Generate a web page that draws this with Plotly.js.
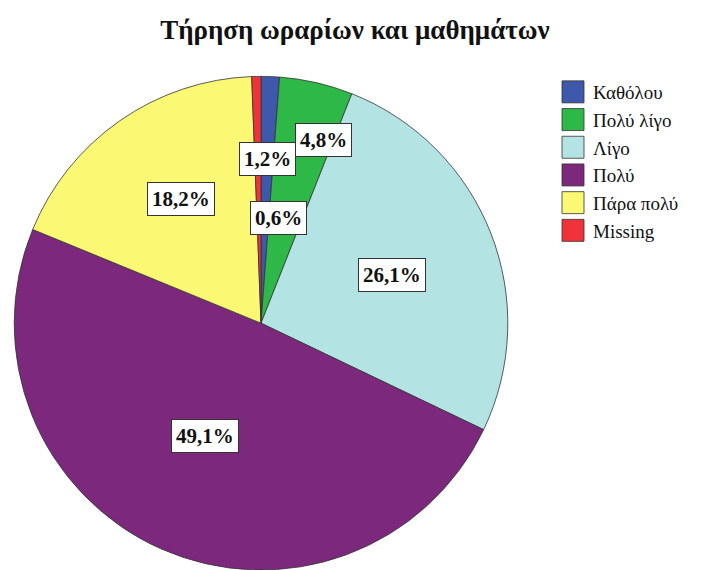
<!DOCTYPE html>
<html>
<head>
<meta charset="utf-8">
<script src="https://cdn.plot.ly/plotly-3.0.1.min.js"></script>
<style>html,body{margin:0;padding:0;background:#fff;overflow:hidden;}</style>
</head>
<body>
<div id="chart" style="width:704px;height:570px;"></div>
<script>
// ---- data ----
const categories = ["Καθόλου", "Πολύ λίγο", "Λίγο", "Πολύ", "Πάρα πολύ", "Missing"];
const percents = [1.2, 4.8, 26.1, 49.1, 18.2, 0.6];
const chartTitle = "Τήρηση ωραρίων και μαθημάτων";

// ---- style ----
const colors = ["#3E58AC", "#2EB848", "#B4E3E3", "#7C287D", "#FBF873", "#EF3338"];
const W = 704, H = 570;
const domX = [12 / W, 510 / W];
const domY = [0, 0.866];
// label placement (radius fraction and angular nudge in degrees), styling only
const labelRadius = [0.667, 0.785, 0.565, 0.51, 0.60, 0.43];
const labelNudge = [0, 6, 1, 2.7, 2, 10.4];

const serif = "Liberation Serif, Times New Roman, DejaVu Serif, serif";

// geometry of the pie (derived from the domain, as Plotly does)
const dW = (domX[1] - domX[0]) * W, dH = (domY[1] - domY[0]) * H;
const R = Math.min(dW, dH) / 2;
const cx = (domX[0] + domX[1]) / 2 * W;
const cy = H - (domY[0] + domY[1]) / 2 * H;

const total = percents.reduce((a, b) => a + b, 0);
let cum = 0;
const annotations = percents.map((v, i) => {
  const mid = (cum + v / 2) / total * 360 + labelNudge[i];
  cum += v;
  const a = mid * Math.PI / 180;
  const px = cx + labelRadius[i] * R * Math.sin(a);
  const py = cy - labelRadius[i] * R * Math.cos(a);
  return {
    x: px / W, y: 1 - py / H, xref: "paper", yref: "paper",
    xanchor: "center", yanchor: "middle", showarrow: false,
    text: "<b>" + v.toFixed(1).replace(".", ",") + "%</b>",
    font: {family: serif, size: 21, color: "#111"},
    bgcolor: "#ffffff", bordercolor: "#333", borderwidth: 1, borderpad: 4
  };
});

const trace = {
  type: "pie",
  labels: categories,
  values: percents,
  sort: false,
  direction: "clockwise",
  rotation: 0,
  marker: {colors: colors, line: {color: "#333", width: 0.8}},
  textinfo: "none",
  hoverinfo: "label+percent",
  domain: {x: domX, y: domY}
};

const layout = {
  width: W, height: H,
  margin: {l: 0, r: 0, t: 0, b: 0},
  paper_bgcolor: "#fff",
  font: {family: serif},
  title: {
    text: "<b>" + chartTitle + "</b>",
    font: {family: serif, size: 27, color: "#111"},
    x: 0.504, xanchor: "center", y: 1 - 30 / H, yanchor: "middle"
  },
  showlegend: true,
  legend: {
    x: 553 / W, y: 1 - 73 / H, xanchor: "left", yanchor: "top",
    font: {family: serif, size: 19, color: "#111"},
    bgcolor: "rgba(0,0,0,0)", traceorder: "normal"
  },
  annotations: annotations
};

Plotly.newPlot("chart", [trace], layout, {displayModeBar: false, staticPlot: true}).then(() => {
  document.querySelectorAll(".legend .legendpoints path").forEach(p => {
    p.setAttribute("d", "M11,11H-11V-11H11Z");
    p.setAttribute("transform", "translate(20,0)");
    p.style.strokeWidth = "0.8px";
    p.style.stroke = "#333";
  });
});
</script>
</body>
</html>
